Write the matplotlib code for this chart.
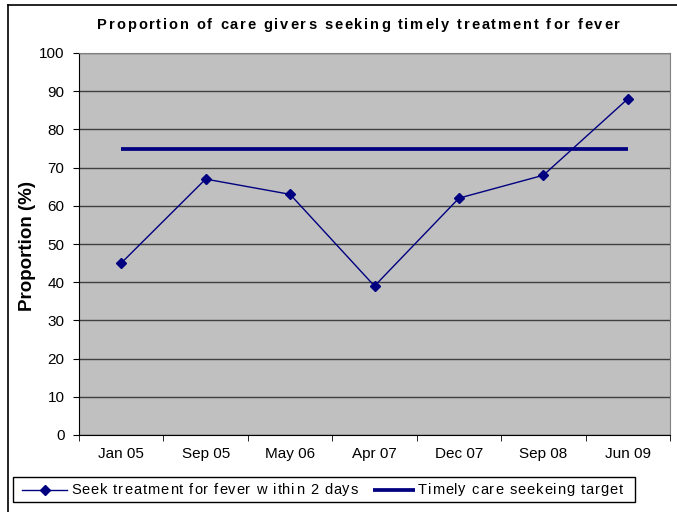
import matplotlib
matplotlib.use("Agg")
import matplotlib.pyplot as plt
from matplotlib.lines import Line2D
from matplotlib.patches import Rectangle
from matplotlib.font_manager import FontProperties
import numpy as np

plt.rcParams['font.family'] = ['Liberation Sans', 'DejaVu Sans']

categories = ["Jan 05", "Sep 05", "May 06", "Apr 07", "Dec 07", "Sep 08", "Jun 09"]
seek_values = [45, 67, 63, 39, 62, 68, 88]
target_value = 75
series_label = "Seek treatment for fever w ithin 2 days"
target_label = "Timely care seekeing target"
title = "Proportion of care givers seeking timely treatment for fever"
ylabel = "Proportion (%)"

W, H = 677, 512
fig = plt.figure(figsize=(W / 100, H / 100), dpi=100)
fig.patch.set_facecolor("white")
renderer = fig.canvas.get_renderer()


def text_w(s, prop):
    w, _, _ = renderer.get_text_width_height_descent(s + "|", prop, ismath=False)
    w0, _, _ = renderer.get_text_width_height_descent("|", prop, ismath=False)
    return w - w0


def tracked_text(s, x0, x1, y_base, size, weight="normal"):
    """Draw letter-spaced text between x0 and x1 (figure pixels), baseline y_base."""
    prop = FontProperties(family=["Liberation Sans"], size=size, weight=weight)
    natural = text_w(s, prop)
    tr = (x1 - x0 - natural) / (len(s) - 1)
    for i, ch in enumerate(s):
        if ch == " ":
            continue
        px = x0 + text_w(s[:i], prop) + i * tr
        fig.text(px / W, 1 - y_base / H, ch, ha="left", va="baseline",
                 fontproperties=prop, color="black")


L, R, T, B = 79, 670, 53, 435
ax = fig.add_axes([L / W, 1 - B / H, (R - L) / W, (B - T) / H])
ax.set_facecolor("#C0C0C0")

x = np.arange(len(categories))
navy = "#000080"
ax.plot(x, seek_values, color=navy, lw=1.0, marker="D", ms=5.5, mfc=navy, mec=navy, zorder=3)
ax.plot([x[0], x[-1]], [target_value, target_value], color=navy, lw=2.7,
        solid_capstyle="butt", zorder=3)

ax.set_xlim(-0.5, len(categories) - 0.5)
ax.set_ylim(0, 100)
ax.set_yticks(np.arange(0, 101, 10))
ax.yaxis.grid(True, color="#404040", lw=1.0)
ax.set_axisbelow(True)

ax.set_xticks(x)
ax.set_xticklabels(categories, fontsize=11)
ax.tick_params(axis="x", length=0, pad=8.5)
ax.set_xticks(np.arange(-0.5, len(categories), 1.0), minor=True)
ax.tick_params(axis="x", which="minor", length=4.5, direction="out", color="#000000")
ax.tick_params(axis="y", length=4.5, direction="out", labelsize=11, pad=6)

for s in ["top", "right"]:
    ax.spines[s].set_color("#808080")
ax.spines["left"].set_color("#000000")
ax.spines["bottom"].set_color("#000000")

# title (letter-spaced, as in the original)
tracked_text(title, 97, 620, 29, 10.5, "bold")
fig.text(28 / W, 1 - 246 / H, ylabel, ha="center", va="center", rotation=90,
         fontsize=13.5, fontweight="bold")

# outer border (left and top)
fig.add_artist(Line2D([8 / W, 8 / W], [0, 1 - 5 / H], color="black", lw=1.2,
                      transform=fig.transFigure))
fig.add_artist(Line2D([8 / W, 1], [1 - 5 / H, 1 - 5 / H], color="black", lw=1.2,
                      transform=fig.transFigure))

# legend
fig.add_artist(Rectangle((13 / W, 1 - 502 / H), (635 - 13) / W, (502 - 477) / H,
                         transform=fig.transFigure, facecolor="white",
                         edgecolor="black", lw=1.0))
ly = 1 - 489.5 / H
fig.add_artist(Line2D([22 / W, 67 / W], [ly, ly], color=navy, lw=1.0,
                      transform=fig.transFigure))
fig.add_artist(Line2D([44.5 / W], [ly], color=navy, marker="D", ms=5.5, mfc=navy,
                      mec=navy, transform=fig.transFigure))
fig.add_artist(Line2D([373 / W, 415 / W], [ly, ly], color=navy, lw=2.7,
                      solid_capstyle="butt", transform=fig.transFigure))
tracked_text(series_label, 71, 358, 493.5, 10.5)
tracked_text(target_label, 418, 623, 493.5, 10.5)

fig.savefig("out.png", dpi=100)
